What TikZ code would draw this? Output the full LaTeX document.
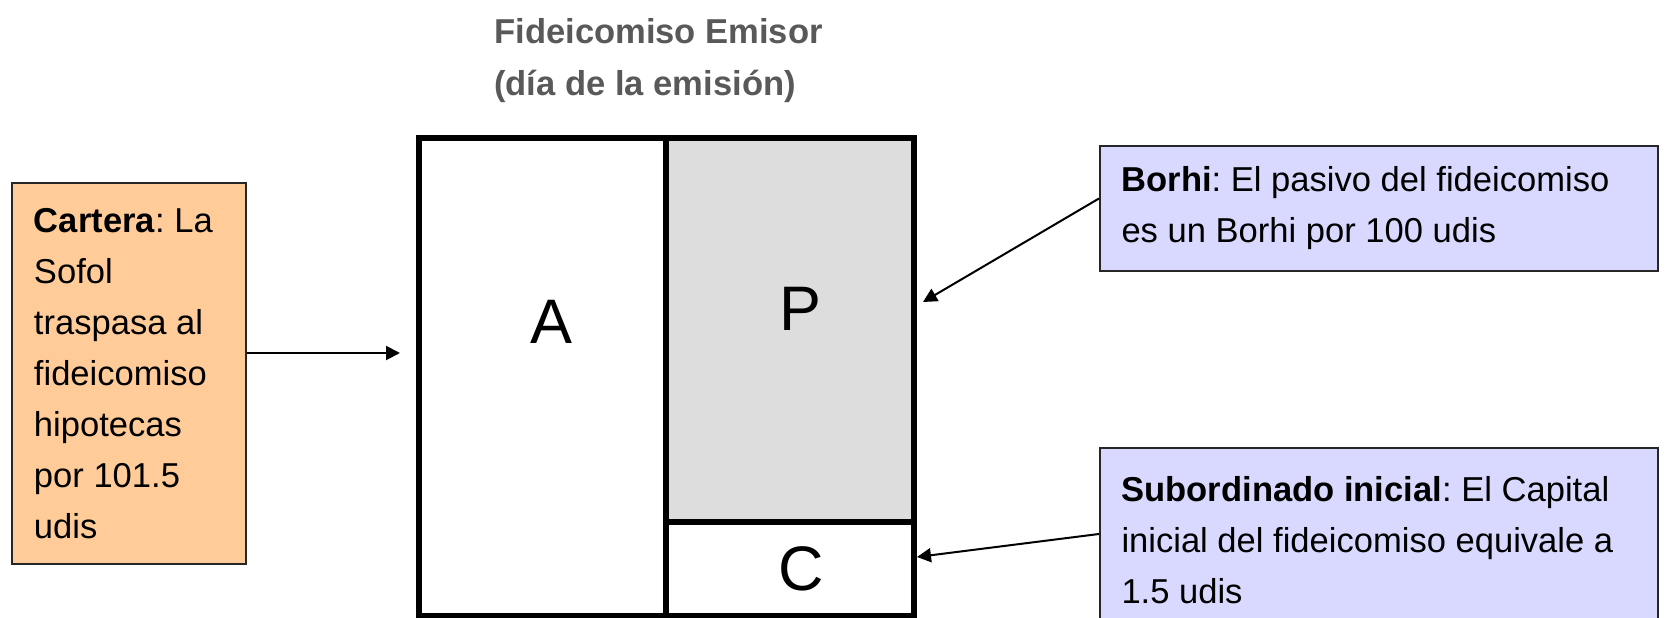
\documentclass[tikz,border=0pt]{standalone}
\usepackage{fontspec}
\setmainfont{Liberation Sans}
\usepackage{xcolor}
\usetikzlibrary{arrows.meta}
\frenchspacing
\definecolor{cartera-orange}{HTML}{FFCC99}
\definecolor{nota-lila}{HTML}{D9D9FF}
\definecolor{pasivo-gris}{HTML}{DDDDDD}
\definecolor{titulo-gris}{HTML}{595959}
\tikzset{
    note-box/.style = {draw=black!85, line width=0.04cm, rectangle, anchor=north west, align=flush left, inner ysep=0pt, font=\fontsize{19.67pt}{29pt}\selectfont\frenchspacing},
    cartera-box/.style = {note-box, fill=cartera-orange, text width=3.8cm, inner xsep=0.44cm, minimum height=7.62cm},
    nota-box/.style = {note-box, fill=nota-lila, text width=10.3cm, inner xsep=0.43cm},
    cell-box/.style = {draw=black, line width=0.12cm, rectangle, inner sep=0pt},
    cell-label/.style = {inner sep=0pt, font=\fontsize{35.8pt}{40pt}\selectfont},
    title-text/.style = {anchor=north west, inner sep=0pt, align=left, text=titulo-gris, font=\fontsize{19.67pt}{29.5pt}\selectfont\bfseries},
    arrow-line/.style = {line width=0.04cm, -{Triangle[length=0.28cm,width=0.28cm]}},
}
\begin{document}
\begin{tikzpicture}[x=0.02cm,y=-0.02cm]
\useasboundingbox (0,0) rectangle (1667,618);
\node[title-text] (titulo) at (494,18) {Fideicomiso Emisor\\(día de la emisión)};

\node[cell-box, minimum width=4.94cm, minimum height=9.56cm] (activo) at (542.5,377) {};
\node[cell-box, fill=pasivo-gris, minimum width=4.96cm, minimum height=7.68cm] (pasivo) at (790,330) {};
\node[cell-box, minimum width=4.96cm, minimum height=1.88cm] (capital) at (790,569) {};
\node[cell-label] (label-a) at (551,322) {A};
\node[cell-label] (label-p) at (800,309) {P};
\node[cell-label] (label-c) at (801,569) {C};

\node[cartera-box] (cartera) at (11,182) {\textbf{Cartera}: La Sofol traspasa al fideicomiso hipotecas por 101.5 udis};
\node[nota-box, minimum width=11.16cm, minimum height=2.5cm] (borhi) at (1099,145) {\textbf{Borhi}: El pasivo del fideicomiso es un Borhi por 100 udis};
\node[nota-box, minimum width=11.16cm, minimum height=3.68cm] (subordinado) at (1099,447) {\textbf{Subordinado inicial}: El Capital inicial del fideicomiso equivale a 1.5 udis};

\coordinate (tip-a) at (400,353);
\coordinate (tip-p) at (923,302);
\coordinate (tip-c) at (917,557);
\draw[arrow-line] (cartera.east |- tip-a) -- (tip-a);
\draw[arrow-line] ([yshift=0.2cm]borhi.west) -- (tip-p);
\draw[arrow-line] ([yshift=0.12cm]subordinado.west) -- (tip-c);
\end{tikzpicture}
\end{document}
